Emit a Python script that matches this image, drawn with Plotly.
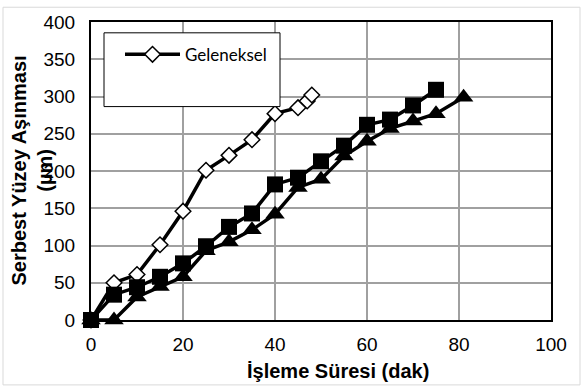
import plotly.graph_objects as go

# Geleneksel (open diamonds)
time_geleneksel = [0, 5, 10, 15, 20, 25, 30, 35, 40, 45, 47, 48]
wear_geleneksel = [0, 50, 61, 101, 146, 201, 221, 242, 277, 285, 294, 302]

# Filled squares series
time_kare = [0, 5, 10, 15, 20, 25, 30, 35, 40, 45, 50, 55, 60, 65, 70, 75]
wear_kare = [0, 34, 44, 58, 76, 99, 125, 143, 182, 191, 213, 234, 262, 269, 288, 309]

# Filled triangles series
time_ucgen = [0, 5, 10, 15, 20, 25, 30, 35, 40, 45, 50, 55, 60, 65, 70, 75, 81]
wear_ucgen = [0, 0, 31, 45, 58, 93, 105, 121, 142, 178, 189, 220, 240, 257, 267, 277, 299]

x_ticks = [0, 20, 40, 60, 80, 100]
y_ticks = [0, 50, 100, 150, 200, 250, 300, 350, 400]

W, H = 581, 388
L, R, T, B = 91, 30, 17, 68
pw, ph = W - L - R, H - T - B

def px(xp):
    return (xp - L) / pw

def py(yp):
    return (H - B - yp) / ph

fig = go.Figure()

fig.add_trace(go.Scatter(
    x=time_geleneksel, y=wear_geleneksel, mode="lines+markers", name="Geleneksel",
    line=dict(color="black", width=3.5), cliponaxis=False,
    marker=dict(symbol="diamond", size=12, color="white",
                line=dict(color="black", width=1.5)),
))
fig.add_trace(go.Scatter(
    x=time_ucgen, y=wear_ucgen, mode="lines+markers", showlegend=False,
    line=dict(color="black", width=3.5), cliponaxis=False,
    marker=dict(symbol="triangle-up", size=17, color="black"),
))
fig.add_trace(go.Scatter(
    x=time_kare, y=wear_kare, mode="lines+markers", showlegend=False,
    line=dict(color="black", width=3.5), cliponaxis=False,
    marker=dict(symbol="square", size=16, color="black"),
))

tickfont = dict(family="Liberation Sans, Arial", size=19, color="black")

fig.update_layout(
    width=W, height=H,
    margin=dict(l=L, r=R, t=T, b=B),
    paper_bgcolor="white", plot_bgcolor="white",
    xaxis=dict(range=[0, 100], tickvals=x_ticks, showgrid=True,
               gridcolor="#a0a0a0", gridwidth=1.5, zeroline=False,
               showline=True, mirror=True, linecolor="black", linewidth=2,
               ticks="outside", ticklen=6, tickcolor="rgba(0,0,0,0)",
               tickfont=tickfont),
    yaxis=dict(range=[0, 400], tickvals=y_ticks, showgrid=True,
               gridcolor="#a0a0a0", gridwidth=1.5, zeroline=False,
               showline=True, mirror=True, linecolor="black", linewidth=2,
               ticks="outside", ticklen=10, tickcolor="rgba(0,0,0,0)",
               tickfont=tickfont),
    legend=dict(x=px(120), y=py(32), xanchor="left", yanchor="top",
                bgcolor="rgba(0,0,0,0)", borderwidth=0,
                font=dict(family="Lato", size=17, color="black"),
                itemwidth=55),
    shapes=[
        dict(type="rect", xref="paper", yref="paper",
             x0=px(104), x1=px(280), y0=py(103), y1=py(28),
             fillcolor="white", line=dict(color="black", width=1), layer="above"),
        dict(type="rect", xref="paper", yref="paper",
             x0=px(3), x1=px(580), y0=py(386), y1=py(2),
             line=dict(color="#d9d9d9", width=1), layer="below"),
    ],
    annotations=[
        dict(text="<b>İşleme Süresi (dak)</b>", xref="paper", yref="paper",
             x=px(338), y=py(372), xanchor="center", yanchor="middle",
             showarrow=False, font=dict(family="Liberation Sans, Arial", size=20, color="black")),
        dict(text="<b>Serbest Yüzey Aşınması<br>(µm)</b>", xref="paper", yref="paper",
             x=px(32), y=py(168), xanchor="center", yanchor="middle", textangle=-90,
             showarrow=False, font=dict(family="Liberation Sans, Arial", size=20, color="black")),
    ],
)

fig.write_html("out.html")
